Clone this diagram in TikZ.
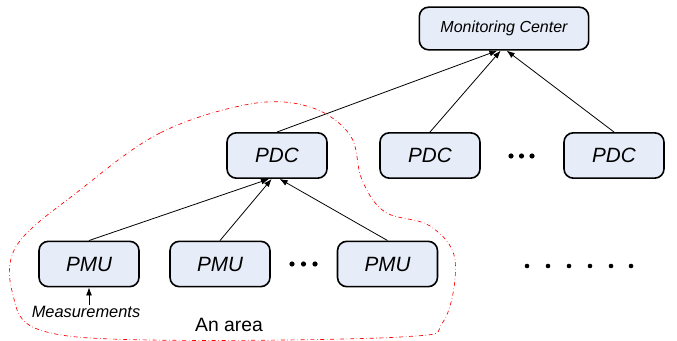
\documentclass[tikz,border=0pt]{standalone}
\usepackage{fontspec}
\setmainfont{Liberation Sans}
\usetikzlibrary{arrows.meta}

\definecolor{boxfill}{RGB}{230,236,248}
\tikzset{
  box/.style = {draw, line width=1.2pt, rounded corners=7pt, fill=boxfill,
                minimum width=75pt, minimum height=34pt, inner sep=0pt,
                font=\fontsize{15.5}{15.5}\selectfont\itshape},
  link/.style = {->, line width=0.6pt},
  >={Latex[length=6pt,width=4.5pt]}
}

\begin{document}
\begin{tikzpicture}[x=0.75pt,y=-0.75pt]
\useasboundingbox (0,0) rectangle (677,341);
% the area
\draw[red, dash dot, line width=0.5pt] plot[smooth cycle, tension=0.6] coordinates
  {(250,104) (160,133) (80,190) (17,245) (13,295) (40,330) (150,340) (400,337)
   (443,322) (455,260) (430,226) (385,212) (362,180) (350,135) (310,107)};
\node[box, minimum width=127pt, minimum height=32pt, font=\fontsize{12}{12}\selectfont\itshape] (MC) at (504,28.5) {Monitoring Center};
\node[box] (PDC1) at (277,155.5) {PDC};
\node[box] (PDC2) at (430,155.5) {PDC};
\node[box] (PDC3) at (614,155.5) {PDC};
\node[box] (PMU1) at (89,264) {PMU};
\node[box] (PMU2) at (220,264) {PMU};
\node[box] (PMU3) at (387.5,264) {PMU};
\node[font=\fontsize{12.3}{12.3}\selectfont\itshape, inner sep=1pt] (meas) at (86,312) {Measurements};
\node[font=\fontsize{14.5}{14.5}\selectfont, inner sep=0pt] (area) at (229,325) {An area};
\foreach \x in {511,521.5,532} \fill (\x,156) circle (2.6);
\foreach \x in {292,303.5,315} \fill (\x,264) circle (2.6);
\foreach \x in {527,548,569,590,611,631} \fill (\x,266) circle (2.3);
\draw[link] (PDC1.north) -- ([xshift=-5pt]MC.south);
\draw[link] (PDC2.north) -- ([xshift=-2.5pt]MC.south);
\draw[link] (PDC3.north) -- ([xshift=2pt]MC.south);
\draw[link] (PMU1.north) -- ([xshift=-6pt]PDC1.south);
\draw[link] (PMU2.north) -- ([xshift=-4pt]PDC1.south);
\draw[link] (PMU3.north) -- ([xshift=2pt]PDC1.south);
\draw[link] (meas.north -| PMU1) -- (PMU1.south);
\end{tikzpicture}
\end{document}
